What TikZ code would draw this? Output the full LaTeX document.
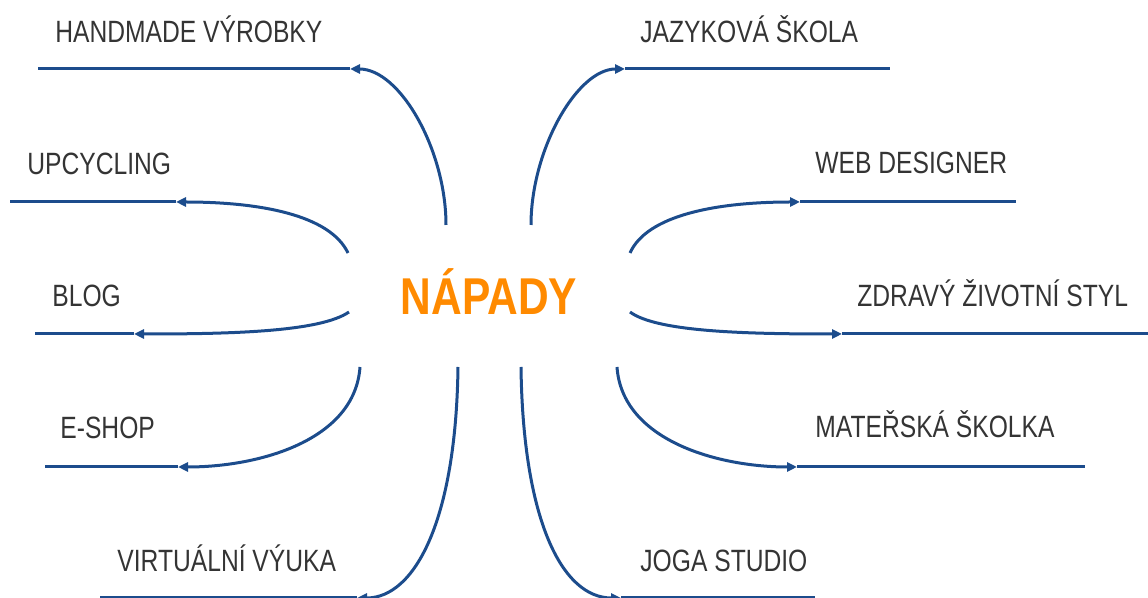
\documentclass[tikz,border=0pt]{standalone}
\usepackage{fontspec}
\usetikzlibrary{arrows.meta}
\newfontfamily\handfont[FakeStretch=0.8]{Liberation Sans}
\newfontfamily\titlefont[FakeStretch=0.82]{Liberation Sans}
\definecolor{linkblue}{RGB}{28,76,140}
\definecolor{labelgray}{RGB}{52,52,52}
\definecolor{ideaorange}{RGB}{255,138,0}
\tikzset{
  branch/.style={draw=linkblue, line width=1.5pt, -{Triangle[length=5pt,width=4.5pt]}},
  baseline/.style={draw=linkblue, line width=1.5pt},
  label/.style={anchor=base west, inner sep=0pt, text=labelgray, font=\handfont\fontsize{15.4}{18}\selectfont},
  title/.style={anchor=base, inner sep=0pt, text=ideaorange, font=\titlefont\bfseries\fontsize{25.9}{30}\selectfont}
}
\begin{document}
\begin{tikzpicture}[x=0.5pt,y=-0.5pt]
\useasboundingbox (0,0) rectangle (1148,598);
\node[title] (center) at (489,315) {NÁPADY};

% labels
\node[label] (l1) at (55,43) {HANDMADE VÝROBKY};
\node[label] (l2) at (27,175) {UPCYCLING};
\node[label] (l3) at (52,307) {BLOG};
\node[label] (l4) at (60,439) {E-SHOP};
\node[label] (l5) at (117,572) {VIRTUÁLNÍ VÝUKA};
\node[label] (r1) at (640,43) {JAZYKOVÁ ŠKOLA};
\node[label] (r2) at (815,174) {WEB DESIGNER};
\node[label] (r3) at (857,307) {ZDRAVÝ ŽIVOTNÍ STYL};
\node[label] (r4) at (815,438) {MATEŘSKÁ ŠKOLKA};
\node[label] (r5) at (640,572) {JOGA STUDIO};

% start points near centre
\coordinate (s1) at (446,225);
\coordinate (s2) at (348,253);
\coordinate (s3) at (349,312);
\coordinate (s4) at (360,367);
\coordinate (s5) at (458,367);
\coordinate (q1) at (531,225);
\coordinate (q2) at (630,253);
\coordinate (q3) at (630,312);
\coordinate (q4) at (617,367);
\coordinate (q5) at (521,367);

% arrow tips
\coordinate (t1) at (350,69);
\coordinate (t2) at (176,202);
\coordinate (t3) at (134,334);
\coordinate (t4) at (178,467);
\coordinate (t5) at (357,598);
\coordinate (u1) at (625,69);
\coordinate (u2) at (800,202);
\coordinate (u3) at (842,334);
\coordinate (u4) at (797,467);
\coordinate (u5) at (621,598);

% line ends
\coordinate (e1) at (38,69);
\coordinate (e2) at (10,202);
\coordinate (e3) at (35,334);
\coordinate (e4) at (45,467);
\coordinate (e5) at (100,598);
\coordinate (f1) at (890,69);
\coordinate (f2) at (1016,202);
\coordinate (f3) at (1148,334);
\coordinate (f4) at (1085,467);
\coordinate (f5) at (815,598);

% left branches
\draw[branch] (s1) .. controls (446,150) and (400,69) .. (t1);
\draw[baseline] (t1) -- (e1);
\draw[branch] (s2) .. controls (330,215) and (260,202) .. (t2);
\draw[baseline] (t2) -- (e2);
\draw[branch] (s3) .. controls (320,332) and (230,334) .. (t3);
\draw[baseline] (t3) -- (e3);
\draw[branch] (s4) .. controls (355,440) and (260,467) .. (t4);
\draw[baseline] (t4) -- (e4);
\draw[branch] (s5) .. controls (456,520) and (415,598) .. (t5);
\draw[baseline] (t5) -- (e5);

% right branches
\draw[branch] (q1) .. controls (531,150) and (577,69) .. (u1);
\draw[baseline] (u1) -- (f1);
\draw[branch] (q2) .. controls (647,215) and (717,202) .. (u2);
\draw[baseline] (u2) -- (f2);
\draw[branch] (q3) .. controls (657,332) and (747,334) .. (u3);
\draw[baseline] (u3) -- (f3);
\draw[branch] (q4) .. controls (622,440) and (717,467) .. (u4);
\draw[baseline] (u4) -- (f4);
\draw[branch] (q5) .. controls (523,520) and (562,598) .. (u5);
\draw[baseline] (u5) -- (f5);
\end{tikzpicture}
\end{document}
